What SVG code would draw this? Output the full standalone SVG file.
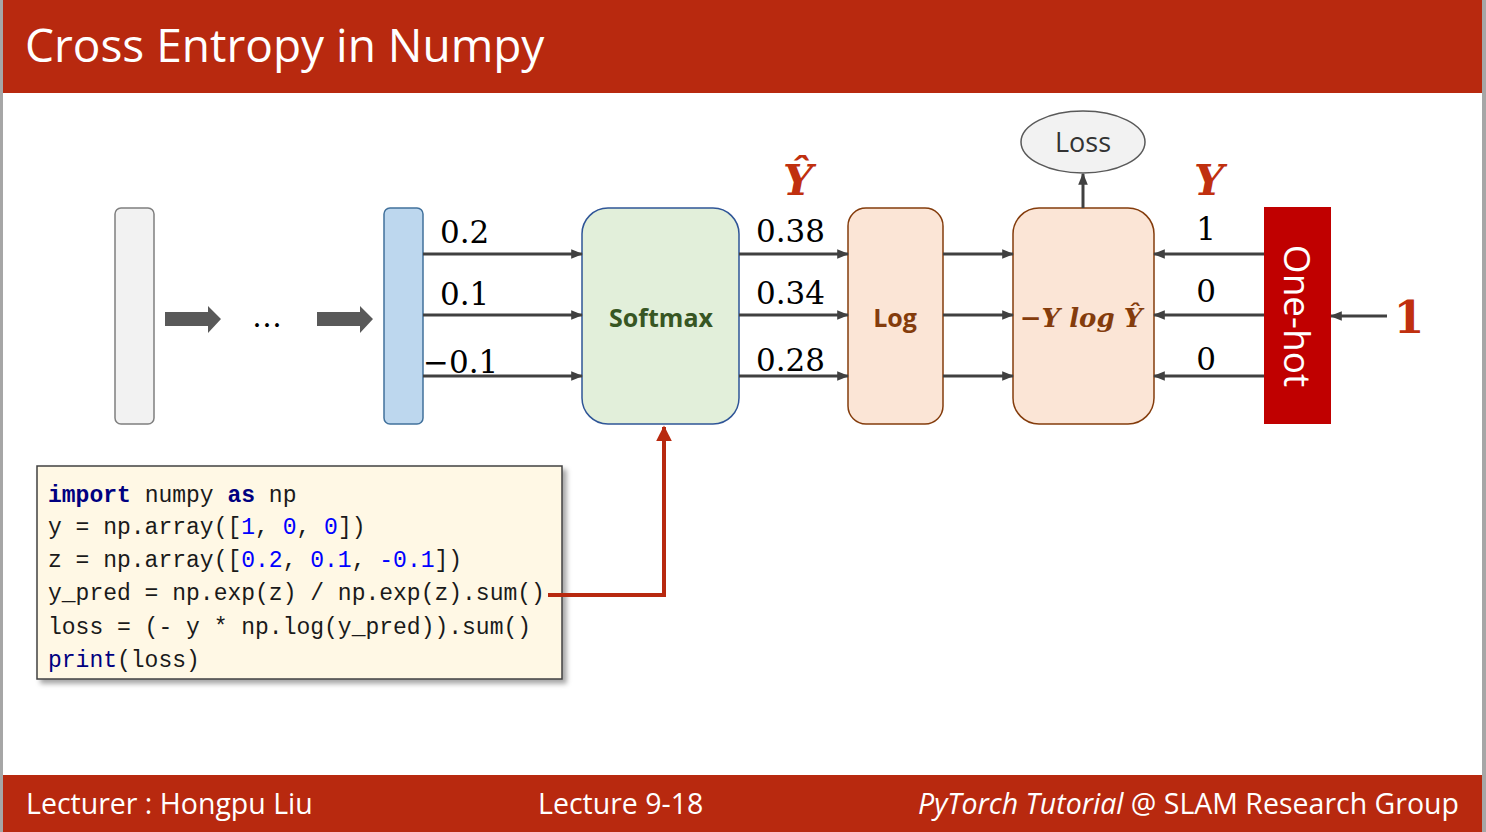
<svg xmlns="http://www.w3.org/2000/svg" width="1486" height="832" viewBox="0 0 1486 832">
<style>
.bar{fill:#B8290F}
.hdr{font-family:"Open Sans","Noto Sans",sans-serif;fill:#FFFFFF}
.num{font-family:"DejaVu Serif","Liberation Serif",serif;font-size:31px;fill:#000000}
.conn{stroke:#404040;stroke-width:3;fill:none}
.code{font-family:"Liberation Mono","DejaVu Sans Mono",monospace;font-size:23px;fill:#1a1a1a}
.kw{fill:#000080;font-weight:bold}
.pr{fill:#000080}
.n{fill:#0000FF}
.red{fill:#C0300F;font-family:"DejaVu Serif","Liberation Serif",serif;font-weight:bold;font-style:italic}
</style>
<defs>
<marker id="ah" viewBox="0 0 10 10" refX="9" refY="5" markerWidth="4" markerHeight="4" orient="auto" markerUnits="strokeWidth">
<path d="M0,1 L10,5 L0,9 z" fill="#404040"/>
</marker>
<marker id="ahr" viewBox="0 0 10 10" refX="9" refY="5" markerWidth="4" markerHeight="4" orient="auto" markerUnits="strokeWidth">
<path d="M0,0 L10,5 L0,10 z" fill="#B8290F"/>
</marker>
<filter id="sh" x="-5%" y="-5%" width="115%" height="120%">
<feDropShadow dx="4" dy="4" stdDeviation="2.5" flood-color="#000000" flood-opacity="0.35"/>
</filter>
</defs>
<rect x="0" y="0" width="1486" height="832" fill="#FFFFFF"/>
<rect x="0" y="0" width="3" height="832" fill="#A6A6A6"/>
<rect x="1482" y="0" width="4" height="832" fill="#A6A6A6"/>
<rect class="bar" x="3" y="0" width="1479" height="93"/>
<rect class="bar" x="3" y="775" width="1479" height="57"/>
<text class="hdr" x="25" y="62" font-size="46">Cross Entropy in Numpy</text>
<text class="hdr" x="26" y="814" font-size="28.5">Lecturer : Hongpu Liu</text>
<text class="hdr" x="538" y="814" font-size="28.5">Lecture 9-18</text>
<text class="hdr" x="1459" y="814" font-size="28.5" text-anchor="end"><tspan font-style="italic">PyTorch Tutorial</tspan> @ SLAM Research Group</text>

<text x="267" y="327" font-family="DejaVu Serif,serif" font-size="30" text-anchor="middle" fill="#000">…</text>

<g id="input">
<rect x="115" y="208" width="39" height="216" rx="6" fill="#F2F2F2" stroke="#7F7F7F" stroke-width="1.5"/>
</g>
<g id="logits">
<rect x="384" y="208" width="39" height="216" rx="6" fill="#BDD7EE" stroke="#41719C" stroke-width="1.5"/>
<text class="num" x="440" y="243">0.2</text>
<text class="num" x="440" y="305">0.1</text>
<text class="num" x="423" y="373">−0.1</text>
</g>
<g id="softmax">
<rect x="582" y="208" width="157" height="216" rx="26" fill="#E2EFDA" stroke="#2F5597" stroke-width="1.5"/>
<text x="661" y="327" font-family="Open Sans,Noto Sans,sans-serif" font-size="25" font-weight="bold" fill="#375623" text-anchor="middle">Softmax</text>
</g>
<g id="yhat">
<text class="red" x="798" y="195" font-size="42" text-anchor="middle">Ŷ</text>
<text class="num" x="756" y="242">0.38</text>
<text class="num" x="756" y="304">0.34</text>
<text class="num" x="756" y="371">0.28</text>
</g>
<g id="log">
<rect x="848" y="208" width="95" height="216" rx="18" fill="#FBE5D6" stroke="#843C0C" stroke-width="1.5"/>
<text x="895" y="327" font-family="Open Sans,Noto Sans,sans-serif" font-size="25" font-weight="bold" fill="#843C0C" text-anchor="middle">Log</text>
</g>
<g id="ce">
<rect x="1013" y="208" width="141" height="216" rx="26" fill="#FBE5D6" stroke="#843C0C" stroke-width="1.5"/>
<text x="1081" y="327" font-family="DejaVu Serif,Liberation Serif,serif" font-size="26" font-weight="bold" font-style="italic" fill="#843C0C" text-anchor="middle">−Y log Ŷ</text>
</g>
<g id="loss">
<ellipse cx="1083" cy="142" rx="62" ry="31" fill="#F2F2F2" stroke="#595959" stroke-width="1.5"/>
<text x="1083" y="152" font-family="Open Sans,Noto Sans,sans-serif" font-size="27" fill="#333333" text-anchor="middle">Loss</text>
</g>
<g id="ylabel">
<text class="red" x="1209" y="195" font-size="42" text-anchor="middle">Y</text>
<text class="num" x="1206" y="240" text-anchor="middle">1</text>
<text class="num" x="1206" y="302" text-anchor="middle">0</text>
<text class="num" x="1206" y="370" text-anchor="middle">0</text>
</g>
<g id="onehot">
<rect x="1264" y="207" width="67" height="217" fill="#C00000"/>
<text x="0" y="0" transform="translate(1284,316) rotate(90)" font-family="Open Sans,Noto Sans,sans-serif" font-size="37" fill="#FFFFFF" text-anchor="middle">One-hot</text>
</g>
<g id="label">
<text x="1409" y="333" font-family="DejaVu Serif,Liberation Serif,serif" font-size="44" font-weight="bold" fill="#C0300F" text-anchor="middle">1</text>
</g>
<g id="code">
<rect x="37" y="466" width="525" height="213" fill="#FFF8E5" stroke="#404040" stroke-width="1.5" filter="url(#sh)"/>
<text class="code" x="48" y="502"><tspan class="kw">import</tspan> numpy <tspan class="kw">as</tspan> np</text>
<text class="code" x="48" y="534" xml:space="preserve">y = np.array([<tspan class="n">1</tspan>, <tspan class="n">0</tspan>, <tspan class="n">0</tspan>])</text>
<text class="code" x="48" y="567" xml:space="preserve">z = np.array([<tspan class="n">0.2</tspan>, <tspan class="n">0.1</tspan>, <tspan class="n">-0.1</tspan>])</text>
<text class="code" x="48" y="600">y_pred = np.exp(z) / np.exp(z).sum()</text>
<text class="code" x="48" y="634">loss = (- y * np.log(y_pred)).sum()</text>
<text class="code" x="48" y="667"><tspan class="pr">print</tspan>(loss)</text>
</g>

<g id="connectors">
<path d="M165,312 H208 V306 L221,319 L208,333 V326 H165 Z" fill="#595959"/>
<path d="M317,312 H360 V306 L373,319 L360,333 V326 H317 Z" fill="#595959"/>
<line class="conn" x1="423" y1="254" x2="582" y2="254" marker-end="url(#ah)"/>
<line class="conn" x1="423" y1="315" x2="582" y2="315" marker-end="url(#ah)"/>
<line class="conn" x1="423" y1="376" x2="582" y2="376" marker-end="url(#ah)"/>
<line class="conn" x1="739" y1="254" x2="848" y2="254" marker-end="url(#ah)"/>
<line class="conn" x1="739" y1="315" x2="848" y2="315" marker-end="url(#ah)"/>
<line class="conn" x1="739" y1="376" x2="848" y2="376" marker-end="url(#ah)"/>
<line class="conn" x1="943" y1="254" x2="1013" y2="254" marker-end="url(#ah)"/>
<line class="conn" x1="943" y1="315" x2="1013" y2="315" marker-end="url(#ah)"/>
<line class="conn" x1="943" y1="376" x2="1013" y2="376" marker-end="url(#ah)"/>
<line class="conn" x1="1264" y1="254" x2="1154" y2="254" marker-end="url(#ah)"/>
<line class="conn" x1="1264" y1="315" x2="1154" y2="315" marker-end="url(#ah)"/>
<line class="conn" x1="1264" y1="376" x2="1154" y2="376" marker-end="url(#ah)"/>
<line class="conn" x1="1387" y1="316" x2="1331" y2="316" marker-end="url(#ah)"/>
<line class="conn" x1="1083" y1="208" x2="1083" y2="174" marker-end="url(#ah)"/>
<path d="M548,595 H664 V427" stroke="#B8290F" stroke-width="4" fill="none" marker-end="url(#ahr)"/>
</g>
</svg>
